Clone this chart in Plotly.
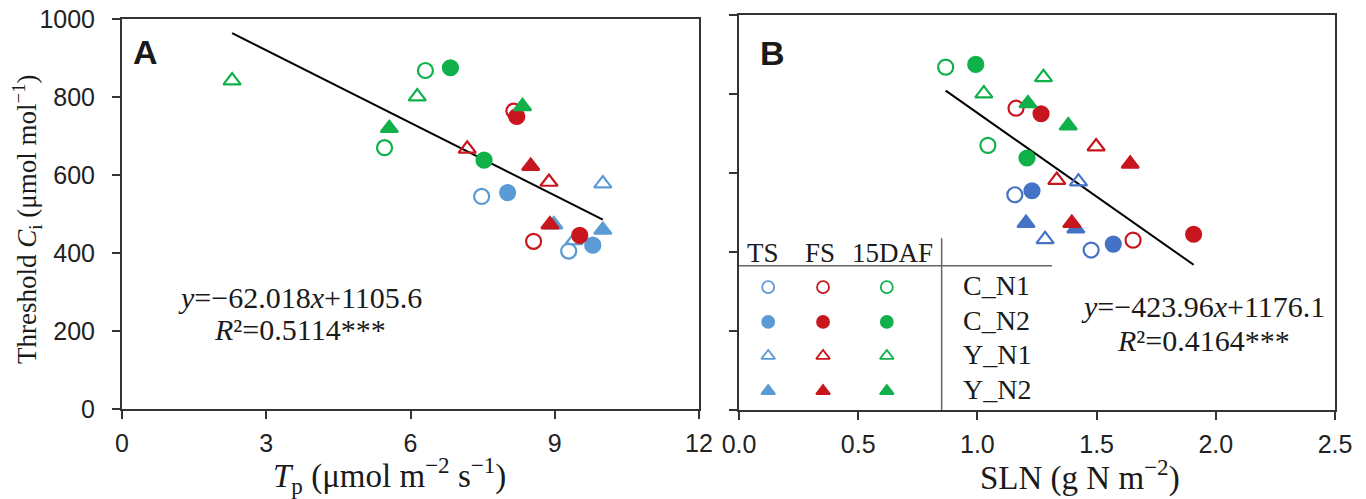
import plotly.graph_objects as go

# Threshold Ci shared by both panels, one entry per sample
stage = ["TS"] * 8 + ["FS"] * 8 + ["15DAF"] * 8
treatment = ["C_N1", "C_N1", "C_N2", "C_N2", "Y_N1", "Y_N1", "Y_N2", "Y_N2"] * 3
ci = [545, 405, 555, 420, 578, 432, 473, 459,
      764, 430, 750, 445, 667, 582, 623, 473,
      868, 670, 875, 638, 842, 801, 720, 776]
tp = [7.48, 9.29, 8.02, 9.79, 10.0, 9.40, 8.98, 10.0,
      8.15, 8.56, 8.21, 9.52, 7.18, 8.88, 8.50, 8.90,
      6.31, 5.46, 6.83, 7.53, 2.29, 6.14, 5.56, 8.33]
sln = [1.157, 1.477, 1.229, 1.570, 1.424, 1.284, 1.204, 1.413,
       1.162, 1.653, 1.267, 1.907, 1.498, 1.333, 1.641, 1.396,
       0.867, 1.044, 0.993, 1.208, 1.277, 1.027, 1.381, 1.212]

# regression fits
fit_a = (-62.018, 1105.6)
fit_b = (-423.96, 1176.1)
eq_a = ["<i>y</i>=−62.018<i>x</i>+1105.6", "<i>R</i>²=0.5114***"]
eq_b = ["<i>y</i>=−423.96<i>x</i>+1176.1", "<i>R</i>²=0.4164***"]

stages = ["TS", "FS", "15DAF"]
treatments = ["C_N1", "C_N2", "Y_N1", "Y_N2"]

colors_a = {"TS": "#5B9BD5", "FS": "#C8161E", "15DAF": "#10B04A"}
colors_b = {"TS": "#4472C4", "FS": "#C8161E", "15DAF": "#10B04A"}
symbols = {"C_N1": "circle-open", "C_N2": "circle",
           "Y_N1": "triangle-up-open", "Y_N2": "triangle-up"}

SERIF = "Liberation Serif, Times New Roman, serif"
SANS = "Liberation Sans, Arial, sans-serif"

W, H = 1366, 499
PAGE_OFF = 8  # default body margin of the html page


def fx(px):
    return (px - PAGE_OFF) / W


def fy(py):
    return 1 - (py - PAGE_OFF) / H


fig = go.Figure()


def add_points(xvals, colors, xa, ya):
    for s in stages:
        for t in treatments:
            idx = [i for i in range(len(ci)) if stage[i] == s and treatment[i] == t]
            fig.add_trace(go.Scatter(
                x=[xvals[i] for i in idx], y=[ci[i] for i in idx],
                mode="markers", xaxis=xa, yaxis=ya, showlegend=False,
                marker=dict(symbol=symbols[t], size=15, color=colors[s],
                            line=dict(color=colors[s], width=2.2)),
            ))


def add_fit(xvals, fit, xa, ya):
    x0, x1 = min(xvals), max(xvals)
    fig.add_trace(go.Scatter(
        x=[x0, x1], y=[fit[0] * x0 + fit[1], fit[0] * x1 + fit[1]],
        mode="lines", xaxis=xa, yaxis=ya, showlegend=False,
        line=dict(color="black", width=2),
    ))


add_fit(tp, fit_a, "x", "y")
add_points(tp, colors_a, "x", "y")
add_fit(sln, fit_b, "x2", "y2")
add_points(sln, colors_b, "x2", "y2")

# legend table drawn inside panel B
col_x = [0.049, 0.141, 0.248]
row_y = [0.311, 0.223, 0.137, 0.048]
for si, s in enumerate(stages):
    for ti, t in enumerate(treatments):
        fig.add_trace(go.Scatter(
            x=[col_x[si]], y=[row_y[ti]], mode="markers", xaxis="x3", yaxis="y3",
            showlegend=False,
            marker=dict(symbol=symbols[t], size=12, color=colors_a[s],
                        line=dict(color=colors_a[s], width=1.8)),
        ))


def note(text, xref, yref, x, y, size, family=SERIF, xanchor="center", **kw):
    return dict(text=text, xref=xref, yref=yref, x=x, y=y, xanchor=xanchor, yanchor="middle",
                showarrow=False, font=dict(family=family, size=size, color="#1a1a1a"), **kw)


annotations = []
head_x = [0.040, 0.136, 0.258]
for s, hx in zip(stages, head_x):
    annotations.append(note(s, "x2 domain", "y2 domain", hx, 0.397, 27))
for t, ry in zip(treatments, row_y):
    annotations.append(note(t, "x2 domain", "y2 domain", 0.373, ry + 0.004, 28, xanchor="left"))

shapes = [
    dict(type="line", xref="x2 domain", yref="y2 domain", x0=0, x1=0.525, y0=0.365, y1=0.365,
         line=dict(color="#666", width=1.5)),
    dict(type="line", xref="x2 domain", yref="y2 domain", x0=0.34, x1=0.34, y0=0, y1=0.435,
         line=dict(color="#666", width=1.5)),
]

annotations += [
    note("<b>A</b>", "x domain", "y domain", 0.040, 0.915, 34, family=SANS),
    note("<b>B</b>", "x2 domain", "y2 domain", 0.057, 0.904, 34, family=SANS),
    note(eq_a[0], "x domain", "y domain", 0.308, 0.287, 30),
    note(eq_a[1], "x domain", "y domain", 0.308, 0.203, 30),
    note(eq_b[0], "x2 domain", "y2 domain", 0.779, 0.261, 30),
    note(eq_b[1], "x2 domain", "y2 domain", 0.779, 0.177, 30),
    # axis titles
    note("Threshold <i>C</i><sub>i</sub> (μmol mol<sup>−1</sup>)", "paper", "paper",
         fx(27), fy(219), 27, textangle=-90),
    note("<i>T</i><sub>p</sub> (μmol m<sup>−2</sup> s<sup>−1</sup>)", "paper", "paper",
         fx(389), fy(475), 33),
    note("SLN (g N m<sup>−2</sup>)", "paper", "paper", fx(1080), fy(475), 33),
]

axis_style = dict(showline=True, mirror=True, linecolor="#333", linewidth=2, showgrid=False,
                  zeroline=False, ticks="outside", ticklen=8, tickwidth=1.5, tickcolor="#333",
                  automargin=False, ticklabeloverflow="allow",
                  tickfont=dict(family=SANS, size=25, color="#222"))

fig.update_layout(
    width=W, height=H, margin=dict(l=0, r=0, t=0, b=0, autoexpand=False),
    paper_bgcolor="white", plot_bgcolor="rgba(0,0,0,0)",
    xaxis=dict(domain=[fx(122), fx(699)], range=[0, 12], tickvals=[0, 3, 6, 9, 12],
               anchor="y", ticklabelstandoff=3, **axis_style),
    yaxis=dict(domain=[fy(409), fy(19)], range=[0, 1000],
               tickvals=[0, 200, 400, 600, 800, 1000], anchor="x", ticklabelstandoff=12,
               **axis_style),
    xaxis2=dict(domain=[fx(739), fx(1335)], range=[0, 2.5],
                tickvals=[0, 0.5, 1.0, 1.5, 2.0, 2.5], tickformat=".1f", anchor="y2",
                ticklabelstandoff=3, **axis_style),
    yaxis2=dict(domain=[fy(410), fy(15)], range=[0, 1000],
                tickvals=[0, 200, 400, 600, 800, 1000], showticklabels=False, anchor="x2",
                **axis_style),
    xaxis3=dict(domain=[fx(739), fx(1335)], range=[0, 1], visible=False, anchor="y3",
                automargin=False),
    yaxis3=dict(domain=[fy(410), fy(15)], range=[0, 1], visible=False, anchor="x3",
                automargin=False),
    annotations=annotations,
    shapes=shapes,
)

fig.write_html("out.html")
